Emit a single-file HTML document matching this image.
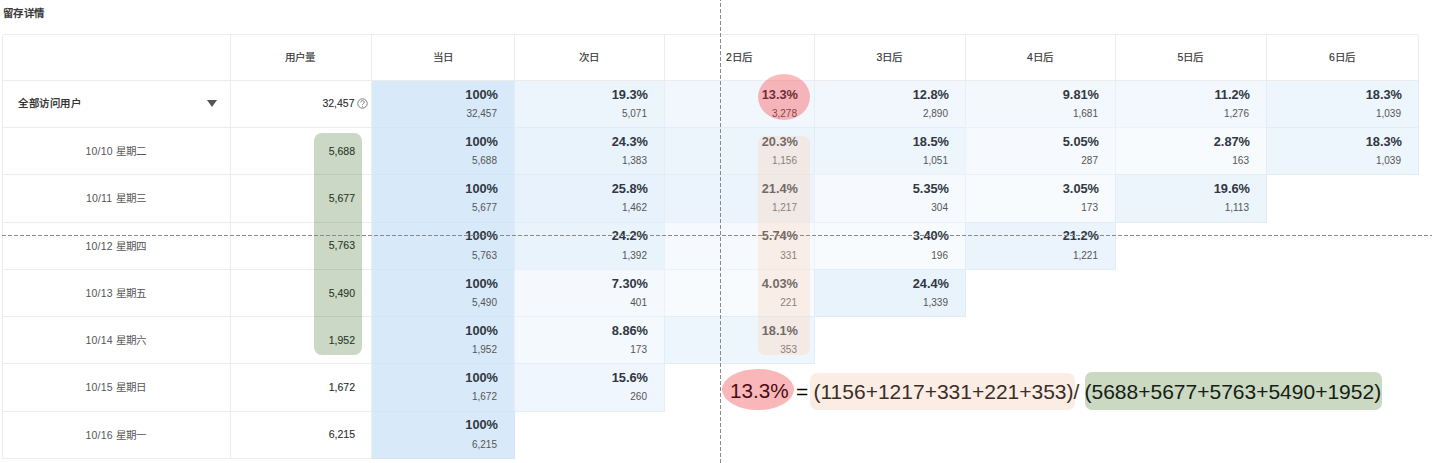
<!DOCTYPE html><html lang="zh-CN"><head><meta charset="utf-8"><style>
*{margin:0;padding:0;box-sizing:border-box}
html,body{width:1432px;height:463px;overflow:hidden;background:#fff}
body{position:relative;font-family:"Liberation Sans",sans-serif;color:#333}
.a{position:absolute;white-space:nowrap}
.hl{position:absolute;height:1px;background:#ececec}
.vl{position:absolute;width:1px;background:#ececec}
.cell{position:absolute}
.pct{position:absolute;text-align:right;font-weight:bold;font-size:12.8px;line-height:13px;color:#323743}
.cnt{position:absolute;text-align:right;font-size:10px;line-height:10px;color:#555}
.hd{position:absolute;top:50.5px;font-size:10.5px;line-height:12px;font-weight:normal;-webkit-text-stroke:0.15px #333;color:#333;text-align:center}
.lb{position:absolute;font-size:10.5px;line-height:12px;color:#555;text-align:center}
.uc{position:absolute;font-size:10.5px;line-height:12px;color:#2a2a2a;-webkit-text-stroke:0.1px #2a2a2a;text-align:right}

</style></head><body>
<div class="a" style="left:2.6px;top:7.3px;font-size:10.4px;line-height:14px;letter-spacing:0.6px;font-weight:bold;color:#3a3a3a">留存详情</div>
<div class="cell" style="left:371px;top:80px;width:144px;height:48px;background:rgb(216,234,250);border:1px solid rgba(200,215,230,0.25)"></div>
<div class="cell" style="left:514px;top:80px;width:151px;height:48px;background:rgb(236,245,252);border:1px solid rgba(200,215,230,0.25)"></div>
<div class="cell" style="left:664px;top:80px;width:151px;height:48px;background:rgb(241,247,253);border:1px solid rgba(200,215,230,0.25)"></div>
<div class="cell" style="left:814px;top:80px;width:152px;height:48px;background:rgb(241,247,253);border:1px solid rgba(200,215,230,0.25)"></div>
<div class="cell" style="left:965px;top:80px;width:151px;height:48px;background:rgb(243,248,253);border:1px solid rgba(200,215,230,0.25)"></div>
<div class="cell" style="left:1115px;top:80px;width:152px;height:48px;background:rgb(242,248,253);border:1px solid rgba(200,215,230,0.25)"></div>
<div class="cell" style="left:1266px;top:80px;width:153px;height:48px;background:rgb(237,245,253);border:1px solid rgba(200,215,230,0.25)"></div>
<div class="cell" style="left:371px;top:127px;width:144px;height:48px;background:rgb(216,234,250);border:1px solid rgba(200,215,230,0.25)"></div>
<div class="cell" style="left:514px;top:127px;width:151px;height:48px;background:rgb(233,243,252);border:1px solid rgba(200,215,230,0.25)"></div>
<div class="cell" style="left:664px;top:127px;width:151px;height:48px;background:rgb(236,244,252);border:1px solid rgba(200,215,230,0.25)"></div>
<div class="cell" style="left:814px;top:127px;width:152px;height:48px;background:rgb(237,245,253);border:1px solid rgba(200,215,230,0.25)"></div>
<div class="cell" style="left:965px;top:127px;width:151px;height:48px;background:rgb(246,250,254);border:1px solid rgba(200,215,230,0.25)"></div>
<div class="cell" style="left:1115px;top:127px;width:152px;height:48px;background:rgb(248,251,254);border:1px solid rgba(200,215,230,0.25)"></div>
<div class="cell" style="left:1266px;top:127px;width:153px;height:48px;background:rgb(237,245,253);border:1px solid rgba(200,215,230,0.25)"></div>
<div class="cell" style="left:371px;top:174px;width:144px;height:49px;background:rgb(216,234,250);border:1px solid rgba(200,215,230,0.25)"></div>
<div class="cell" style="left:514px;top:174px;width:151px;height:49px;background:rgb(232,242,252);border:1px solid rgba(200,215,230,0.25)"></div>
<div class="cell" style="left:664px;top:174px;width:151px;height:49px;background:rgb(235,244,252);border:1px solid rgba(200,215,230,0.25)"></div>
<div class="cell" style="left:814px;top:174px;width:152px;height:49px;background:rgb(246,250,254);border:1px solid rgba(200,215,230,0.25)"></div>
<div class="cell" style="left:965px;top:174px;width:151px;height:49px;background:rgb(248,251,254);border:1px solid rgba(200,215,230,0.25)"></div>
<div class="cell" style="left:1115px;top:174px;width:152px;height:49px;background:rgb(236,245,252);border:1px solid rgba(200,215,230,0.25)"></div>
<div class="cell" style="left:371px;top:222px;width:144px;height:48px;background:rgb(216,234,250);border:1px solid rgba(200,215,230,0.25)"></div>
<div class="cell" style="left:514px;top:222px;width:151px;height:48px;background:rgb(233,243,252);border:1px solid rgba(200,215,230,0.25)"></div>
<div class="cell" style="left:664px;top:222px;width:151px;height:48px;background:rgb(246,250,254);border:1px solid rgba(200,215,230,0.25)"></div>
<div class="cell" style="left:814px;top:222px;width:152px;height:48px;background:rgb(248,251,254);border:1px solid rgba(200,215,230,0.25)"></div>
<div class="cell" style="left:965px;top:222px;width:151px;height:48px;background:rgb(235,244,252);border:1px solid rgba(200,215,230,0.25)"></div>
<div class="cell" style="left:371px;top:269px;width:144px;height:48px;background:rgb(216,234,250);border:1px solid rgba(200,215,230,0.25)"></div>
<div class="cell" style="left:514px;top:269px;width:151px;height:48px;background:rgb(245,249,253);border:1px solid rgba(200,215,230,0.25)"></div>
<div class="cell" style="left:664px;top:269px;width:151px;height:48px;background:rgb(247,251,254);border:1px solid rgba(200,215,230,0.25)"></div>
<div class="cell" style="left:814px;top:269px;width:152px;height:48px;background:rgb(233,243,252);border:1px solid rgba(200,215,230,0.25)"></div>
<div class="cell" style="left:371px;top:316px;width:144px;height:48px;background:rgb(216,234,250);border:1px solid rgba(200,215,230,0.25)"></div>
<div class="cell" style="left:514px;top:316px;width:151px;height:48px;background:rgb(244,249,253);border:1px solid rgba(200,215,230,0.25)"></div>
<div class="cell" style="left:664px;top:316px;width:151px;height:48px;background:rgb(237,245,253);border:1px solid rgba(200,215,230,0.25)"></div>
<div class="cell" style="left:371px;top:363px;width:144px;height:49px;background:rgb(216,234,250);border:1px solid rgba(200,215,230,0.25)"></div>
<div class="cell" style="left:514px;top:363px;width:151px;height:49px;background:rgb(239,246,253);border:1px solid rgba(200,215,230,0.25)"></div>
<div class="cell" style="left:371px;top:411px;width:144px;height:48px;background:rgb(216,234,250);border:1px solid rgba(200,215,230,0.25)"></div>
<div class="pct" style="left:371px;width:127px;top:87.50px">100%</div>
<div class="cnt" style="left:371px;width:126px;top:108.90px">32,457</div>
<div class="pct" style="left:514px;width:134px;top:87.50px">19.3%</div>
<div class="cnt" style="left:514px;width:133px;top:108.90px">5,071</div>
<div class="pct" style="left:664px;width:134px;top:87.50px">13.3%</div>
<div class="cnt" style="left:664px;width:133px;top:108.90px">3,278</div>
<div class="pct" style="left:814px;width:135px;top:87.50px">12.8%</div>
<div class="cnt" style="left:814px;width:134px;top:108.90px">2,890</div>
<div class="pct" style="left:965px;width:134px;top:87.50px">9.81%</div>
<div class="cnt" style="left:965px;width:133px;top:108.90px">1,681</div>
<div class="pct" style="left:1115px;width:135px;top:87.50px">11.2%</div>
<div class="cnt" style="left:1115px;width:134px;top:108.90px">1,276</div>
<div class="pct" style="left:1266px;width:136px;top:87.50px">18.3%</div>
<div class="cnt" style="left:1266px;width:135px;top:108.90px">1,039</div>
<div class="pct" style="left:371px;width:127px;top:134.75px">100%</div>
<div class="cnt" style="left:371px;width:126px;top:156.15px">5,688</div>
<div class="pct" style="left:514px;width:134px;top:134.75px">24.3%</div>
<div class="cnt" style="left:514px;width:133px;top:156.15px">1,383</div>
<div class="pct" style="left:664px;width:134px;top:134.75px">20.3%</div>
<div class="cnt" style="left:664px;width:133px;top:156.15px">1,156</div>
<div class="pct" style="left:814px;width:135px;top:134.75px">18.5%</div>
<div class="cnt" style="left:814px;width:134px;top:156.15px">1,051</div>
<div class="pct" style="left:965px;width:134px;top:134.75px">5.05%</div>
<div class="cnt" style="left:965px;width:133px;top:156.15px">287</div>
<div class="pct" style="left:1115px;width:135px;top:134.75px">2.87%</div>
<div class="cnt" style="left:1115px;width:134px;top:156.15px">163</div>
<div class="pct" style="left:1266px;width:136px;top:134.75px">18.3%</div>
<div class="cnt" style="left:1266px;width:135px;top:156.15px">1,039</div>
<div class="pct" style="left:371px;width:127px;top:182.00px">100%</div>
<div class="cnt" style="left:371px;width:126px;top:203.40px">5,677</div>
<div class="pct" style="left:514px;width:134px;top:182.00px">25.8%</div>
<div class="cnt" style="left:514px;width:133px;top:203.40px">1,462</div>
<div class="pct" style="left:664px;width:134px;top:182.00px">21.4%</div>
<div class="cnt" style="left:664px;width:133px;top:203.40px">1,217</div>
<div class="pct" style="left:814px;width:135px;top:182.00px">5.35%</div>
<div class="cnt" style="left:814px;width:134px;top:203.40px">304</div>
<div class="pct" style="left:965px;width:134px;top:182.00px">3.05%</div>
<div class="cnt" style="left:965px;width:133px;top:203.40px">173</div>
<div class="pct" style="left:1115px;width:135px;top:182.00px">19.6%</div>
<div class="cnt" style="left:1115px;width:134px;top:203.40px">1,113</div>
<div class="pct" style="left:371px;width:127px;top:229.25px">100%</div>
<div class="cnt" style="left:371px;width:126px;top:250.65px">5,763</div>
<div class="pct" style="left:514px;width:134px;top:229.25px">24.2%</div>
<div class="cnt" style="left:514px;width:133px;top:250.65px">1,392</div>
<div class="pct" style="left:664px;width:134px;top:229.25px">5.74%</div>
<div class="cnt" style="left:664px;width:133px;top:250.65px">331</div>
<div class="pct" style="left:814px;width:135px;top:229.25px">3.40%</div>
<div class="cnt" style="left:814px;width:134px;top:250.65px">196</div>
<div class="pct" style="left:965px;width:134px;top:229.25px">21.2%</div>
<div class="cnt" style="left:965px;width:133px;top:250.65px">1,221</div>
<div class="pct" style="left:371px;width:127px;top:276.50px">100%</div>
<div class="cnt" style="left:371px;width:126px;top:297.90px">5,490</div>
<div class="pct" style="left:514px;width:134px;top:276.50px">7.30%</div>
<div class="cnt" style="left:514px;width:133px;top:297.90px">401</div>
<div class="pct" style="left:664px;width:134px;top:276.50px">4.03%</div>
<div class="cnt" style="left:664px;width:133px;top:297.90px">221</div>
<div class="pct" style="left:814px;width:135px;top:276.50px">24.4%</div>
<div class="cnt" style="left:814px;width:134px;top:297.90px">1,339</div>
<div class="pct" style="left:371px;width:127px;top:323.75px">100%</div>
<div class="cnt" style="left:371px;width:126px;top:345.15px">1,952</div>
<div class="pct" style="left:514px;width:134px;top:323.75px">8.86%</div>
<div class="cnt" style="left:514px;width:133px;top:345.15px">173</div>
<div class="pct" style="left:664px;width:134px;top:323.75px">18.1%</div>
<div class="cnt" style="left:664px;width:133px;top:345.15px">353</div>
<div class="pct" style="left:371px;width:127px;top:371.00px">100%</div>
<div class="cnt" style="left:371px;width:126px;top:392.40px">1,672</div>
<div class="pct" style="left:514px;width:134px;top:371.00px">15.6%</div>
<div class="cnt" style="left:514px;width:133px;top:392.40px">260</div>
<div class="pct" style="left:371px;width:127px;top:418.25px">100%</div>
<div class="cnt" style="left:371px;width:126px;top:439.65px">6,215</div>
<div class="a" style="left:2px;top:34px;width:1417px;height:47px;border:1px solid #ececec;border-bottom:none;border-radius:3px 3px 0 0"></div>
<div class="hl" style="left:2px;top:80px;width:1417px"></div>
<div class="vl" style="left:230px;top:34px;height:46px"></div>
<div class="vl" style="left:371px;top:34px;height:46px"></div>
<div class="vl" style="left:514px;top:34px;height:46px"></div>
<div class="vl" style="left:664px;top:34px;height:46px"></div>
<div class="vl" style="left:814px;top:34px;height:46px"></div>
<div class="vl" style="left:965px;top:34px;height:46px"></div>
<div class="vl" style="left:1115px;top:34px;height:46px"></div>
<div class="vl" style="left:1266px;top:34px;height:46px"></div>
<div class="hl" style="left:2px;top:127px;width:370px"></div>
<div class="hl" style="left:2px;top:174px;width:370px"></div>
<div class="hl" style="left:2px;top:222px;width:370px"></div>
<div class="hl" style="left:2px;top:269px;width:370px"></div>
<div class="hl" style="left:2px;top:316px;width:370px"></div>
<div class="hl" style="left:2px;top:363px;width:370px"></div>
<div class="hl" style="left:2px;top:411px;width:370px"></div>
<div class="hl" style="left:2px;top:458px;width:370px"></div>
<div class="vl" style="left:2px;top:80px;height:379px"></div>
<div class="vl" style="left:230px;top:80px;height:379px"></div>
<div class="vl" style="left:371px;top:80px;height:379px"></div>
<div class="hd" style="left:229.5px;width:141px">用户量</div>
<div class="hd" style="left:371px;width:143px">当日</div>
<div class="hd" style="left:514px;width:150px">次日</div>
<div class="hd" style="left:664px;width:150px">2日后</div>
<div class="hd" style="left:814px;width:151px">3日后</div>
<div class="hd" style="left:965px;width:150px">4日后</div>
<div class="hd" style="left:1115px;width:151px">5日后</div>
<div class="hd" style="left:1266px;width:152px">6日后</div>
<div class="lb" style="left:18px;top:97.5px;font-size:10.4px;letter-spacing:0.6px;text-align:left;color:#222;-webkit-text-stroke:0.25px #222">全部访问用户</div>
<div class="a" style="left:207px;top:100.0px;width:0;height:0;border-left:5px solid transparent;border-right:5px solid transparent;border-top:7px solid #555"></div>
<div class="uc" style="left:230px;width:124.5px;top:97.2px">32,457</div>
<svg class="a" style="left:357px;top:98.0px" width="11" height="11" viewBox="0 0 11 11"><circle cx="5.5" cy="5.5" r="4.7" fill="none" stroke="#7d7d7d" stroke-width="1"/><path d="M3.8 4.4a1.7 1.7 0 1 1 2.5 1.45c-.55.3-.8.55-.8 1.15" fill="none" stroke="#7d7d7d" stroke-width="1"/><circle cx="5.5" cy="8.35" r="0.6" fill="#7d7d7d"/></svg>
<div class="lb" style="left:2px;width:228px;top:145.05px;font-size:10.5px;letter-spacing:0.2px">10/10 星期二</div>
<div class="uc" style="left:230px;width:125px;top:144.85px">5,688</div>
<div class="lb" style="left:2px;width:228px;top:192.30px;font-size:10.5px;letter-spacing:0.2px">10/11 星期三</div>
<div class="uc" style="left:230px;width:125px;top:192.10px">5,677</div>
<div class="lb" style="left:2px;width:228px;top:239.55px;font-size:10.5px;letter-spacing:0.2px">10/12 星期四</div>
<div class="uc" style="left:230px;width:125px;top:239.35px">5,763</div>
<div class="lb" style="left:2px;width:228px;top:286.80px;font-size:10.5px;letter-spacing:0.2px">10/13 星期五</div>
<div class="uc" style="left:230px;width:125px;top:286.60px">5,490</div>
<div class="lb" style="left:2px;width:228px;top:334.05px;font-size:10.5px;letter-spacing:0.2px">10/14 星期六</div>
<div class="uc" style="left:230px;width:125px;top:333.85px">1,952</div>
<div class="lb" style="left:2px;width:228px;top:381.30px;font-size:10.5px;letter-spacing:0.2px">10/15 星期日</div>
<div class="uc" style="left:230px;width:125px;top:381.10px">1,672</div>
<div class="lb" style="left:2px;width:228px;top:428.55px;font-size:10.5px;letter-spacing:0.2px">10/16 星期一</div>
<div class="uc" style="left:230px;width:125px;top:428.35px">6,215</div>
<div class="a" style="left:314px;top:133px;width:48px;height:222px;border-radius:8px;background:rgba(45,100,25,0.25)"></div>
<div class="a" style="left:758px;top:136px;width:52px;height:219px;border-radius:7px;background:rgba(255,210,185,0.32)"></div>
<div class="a" style="left:758px;top:74px;width:52px;height:46px;border-radius:50%;background:rgba(255,28,30,0.3)"></div>
<div class="a" style="left:0;top:235px;width:1432px;height:1px;background:repeating-linear-gradient(90deg,transparent 0,transparent 2px,#8a8a8a 2px,#8a8a8a 6px)"></div>
<div class="a" style="left:720px;top:0;width:1px;height:463px;background:linear-gradient(180deg,#8a8a8a 0,#8a8a8a 1px,transparent 1px,transparent 3px,#8a8a8a 3px,#8a8a8a 6px);background-size:1px 6px"></div>
<div class="a" style="left:810px;top:373px;width:265px;height:37px;border-radius:7px;background:#fcede4"></div>
<div class="a" style="left:1085px;top:372px;width:297px;height:38px;border-radius:7px;background:#cbd9c3"></div>
<div class="a" style="left:722px;top:369px;width:72px;height:41px;border-radius:50%;background:#f9b7ba"></div>
<div class="a" style="left:730px;top:379.3px;font-size:20.7px;line-height:24px;color:#4a0c12">13.3%</div>
<div class="a" style="left:796px;top:379.5px;font-size:21px;line-height:24px;color:#000">=</div>
<div class="a" style="left:813.5px;top:379.5px;font-size:21px;line-height:24px;color:#3a2e28">(1156+1217+331+221+353)/</div>
<div class="a" style="left:1084.5px;top:379.5px;font-size:21px;line-height:24px;color:#142014">(5688+5677+5763+5490+1952)</div>
</body></html>
